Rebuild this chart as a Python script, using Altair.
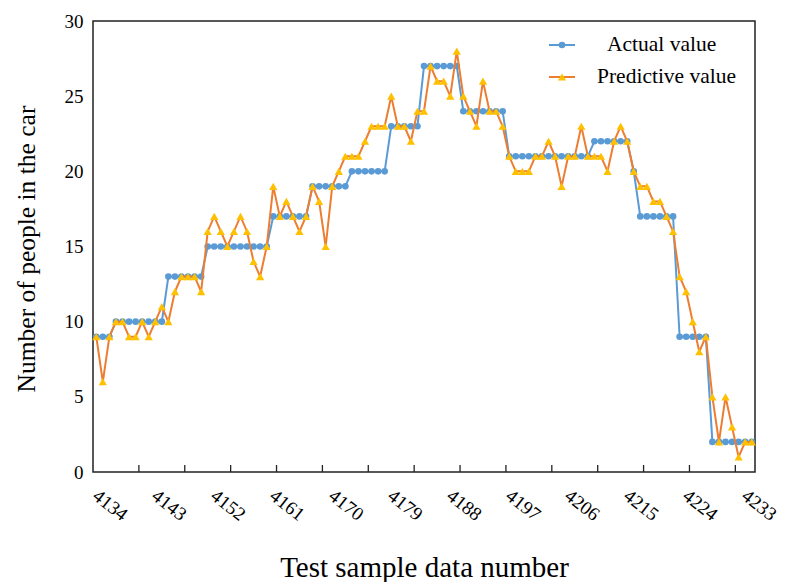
import altair as alt
import pandas as pd

# ---------------- data ----------------
samples = list(range(4134, 4235))          # test sample data numbers (101 samples)

actual = [9, 9, 9,
          10, 10, 10, 10, 10, 10, 10, 10,
          13, 13, 13, 13, 13, 13,
          15, 15, 15, 15, 15, 15, 15, 15, 15, 15,
          17, 17, 17, 17, 17, 17,
          19, 19, 19, 19, 19, 19,
          20, 20, 20, 20, 20, 20,
          23, 23, 23, 23, 23,
          27, 27, 27, 27, 27, 27,
          24, 24, 24, 24, 24, 24, 24,
          21, 21, 21, 21, 21, 21, 21, 21, 21, 21, 21, 21, 21,
          22, 22, 22, 22, 22, 22,
          20,
          17, 17, 17, 17, 17, 17,
          9, 9, 9, 9, 9,
          2, 2, 2, 2, 2, 2, 2]

predicted = [9, 6, 9, 10, 10, 9, 9, 10, 9, 10,
             11, 10, 12, 13, 13, 13, 12, 16, 17, 16,
             15, 16, 17, 16, 14, 13, 15, 19, 17, 18,
             17, 16, 17, 19, 18, 15, 19, 20, 21, 21,
             21, 22, 23, 23, 23, 25, 23, 23, 22, 24,
             24, 27, 26, 26, 25, 28, 25, 24, 23, 26,
             24, 24, 23, 21, 20, 20, 20, 21, 21, 22,
             21, 19, 21, 21, 23, 21, 21, 21, 20, 22,
             23, 22, 20, 19, 19, 18, 18, 17, 16, 13,
             12, 10, 8, 9, 5, 2, 5, 3, 1, 2,
             2]

x_labels = [4134, 4143, 4152, 4161, 4170, 4179, 4188, 4197, 4206, 4215, 4224, 4233]
y_ticks = [0, 5, 10, 15, 20, 25, 30]
tick_every = 7                               # category tick-mark interval
legend_labels = ["Actual value", "Predictive value"]

df = pd.DataFrame({"sample": samples, "actual": actual, "predicted": predicted})
tick_df = pd.DataFrame({"pos": [samples[0] - 0.5 + tick_every * k
                                for k in range(1, len(samples) // tick_every + 1)]})

# ---------------- style ----------------
FONT = "Liberation Serif"
BLUE = "#5B9BD5"
ORANGE = "#ED7D31"
GOLD = "#FFC000"
W, H = 662, 451

xscale = alt.Scale(domain=[samples[0] - 0.5, samples[-1] + 0.5], nice=False, zero=False)
yscale = alt.Scale(domain=[0, 30], nice=False)

x_axis = alt.Axis(values=x_labels, format="d", labelAngle=38, labelAlign="left",
                  labelBaseline="top", labelPadding=14, labelOffset=4, ticks=False,
                  tickSize=0, grid=False, domain=False, labelFontSize=19,
                  labelFont=FONT, labelColor="black", labelOverlap=False,
                  labelFlush=False, title="Test sample data number",
                  titleFont=FONT, titleFontSize=29, titleFontWeight="normal",
                  titleColor="black", titleY=95, titleBaseline="middle")
y_axis = alt.Axis(values=y_ticks, ticks=False, tickSize=0, grid=False, domain=False,
                  labelFontSize=19, labelFont=FONT, labelColor="black", labelPadding=10,
                  title="Number of people in the car", titleFont=FONT,
                  titleFontSize=25.5, titleFontWeight="normal", titleColor="black",
                  titleX=-67, titleY=H / 2 + 2, titleAngle=-90, titleBaseline="middle",
                  titleAlign="center")

base = alt.Chart(df)

actual_line = base.mark_line(color=BLUE, strokeWidth=2).encode(
    x=alt.X("sample:Q", scale=xscale, axis=x_axis),
    y=alt.Y("actual:Q", scale=yscale, axis=y_axis),
)
actual_pts = base.mark_point(shape="circle", filled=True, color=BLUE, size=44, opacity=1).encode(
    x=alt.X("sample:Q", scale=xscale), y=alt.Y("actual:Q", scale=yscale))
pred_line = base.mark_line(color=ORANGE, strokeWidth=2).encode(
    x=alt.X("sample:Q", scale=xscale), y=alt.Y("predicted:Q", scale=yscale))
pred_pts = base.mark_point(shape="triangle-up", filled=True, color=GOLD, size=68, opacity=1).encode(
    x=alt.X("sample:Q", scale=xscale), y=alt.Y("predicted:Q", scale=yscale))

ticks = alt.Chart(tick_df).mark_rule(color="#222", strokeWidth=1.3).encode(
    x=alt.X("pos:Q", scale=xscale), y=alt.value(H - 7), y2=alt.value(H))

# ---------------- legend (inside, top-right) ----------------
leg0 = alt.Chart(pd.DataFrame({"label": [legend_labels[0]]}))
leg1 = alt.Chart(pd.DataFrame({"label": [legend_labels[1]]}))
legend = alt.layer(
    leg0.mark_rule(color=BLUE, strokeWidth=2).encode(x=alt.value(456), x2=alt.value(482), y=alt.value(24)),
    leg0.mark_point(shape="circle", filled=True, color=BLUE, size=44, opacity=1).encode(
        x=alt.value(469), y=alt.value(24)),
    leg0.mark_text(align="left", baseline="middle", font=FONT, fontSize=21.5, color="black").encode(
        x=alt.value(514), y=alt.value(24), text="label:N"),
    leg1.mark_rule(color=ORANGE, strokeWidth=2).encode(x=alt.value(456), x2=alt.value(482), y=alt.value(56)),
    leg1.mark_point(shape="triangle-up", filled=True, color=GOLD, size=68, opacity=1).encode(
        x=alt.value(469), y=alt.value(56)),
    leg1.mark_text(align="left", baseline="middle", font=FONT, fontSize=21.5, color="black").encode(
        x=alt.value(504), y=alt.value(56), text="label:N"),
)

chart = alt.layer(actual_line, actual_pts, pred_line, pred_pts, ticks, legend).properties(
    width=W, height=H,
    autosize=alt.AutoSizeParams(type="none"),
    padding={"left": 93, "top": 21, "right": 35, "bottom": 110},
    background="white",
).configure_view(stroke="#222", strokeWidth=1.5)

chart.save("out.html", embed_options={"renderer": "svg", "actions": False})
